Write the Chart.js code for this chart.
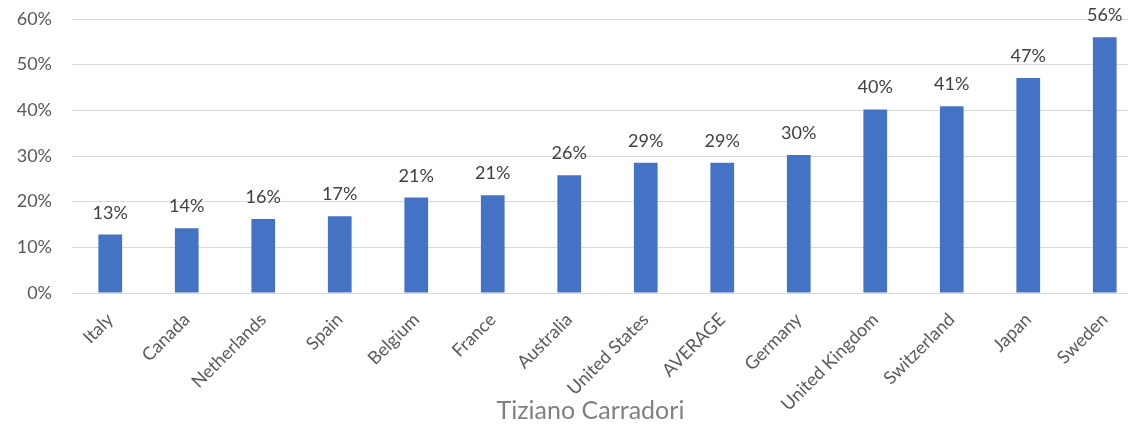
<!DOCTYPE html>
<html lang="en">
<head>
    <meta charset="UTF-8">
    <title>Share by country</title>
    <script src="https://cdn.jsdelivr.net/npm/chart.js"></script>
    <style>
        body {
            margin: 0;
            background: #fff;
            overflow: hidden;
        }
        #wrap {
            width: 1145px;
            height: 425px;
        }
    </style>
</head>
<body>
    <div id="wrap"><canvas id="barChart"></canvas></div>

    <script>
        const countries = ['Italy', 'Canada', 'Netherlands', 'Spain', 'Belgium', 'France', 'Australia',
            'United States', 'AVERAGE', 'Germany', 'United Kingdom', 'Switzerland', 'Japan', 'Sweden'];
        const shares = [12.8, 14.2, 16.2, 16.8, 20.9, 21.4, 25.8, 28.5, 28.5, 30.2, 40.2, 40.9, 47.1, 56.0];
        const yTicks = [0, 10, 20, 30, 40, 50, 60];
        const caption = 'Tiziano Carradori';

        const FONT = 'Lato, "Open Sans", sans-serif';

        // value labels above each bar
        const barLabels = {
            id: 'barLabels',
            afterDatasetsDraw(chart) {
                const ctx = chart.ctx;
                const meta = chart.getDatasetMeta(0);
                ctx.save();
                ctx.font = '18px ' + FONT;
                ctx.fillStyle = '#404040';
                ctx.textAlign = 'center';
                ctx.textBaseline = 'alphabetic';
                meta.data.forEach((bar, i) => {
                    ctx.fillText(Math.round(shares[i]) + '%', bar.x, bar.y - 16);
                });
                ctx.restore();
            }
        };

        // author line under the axis labels (sits a bit left of the plot centre in the original)
        const bottomCaption = {
            id: 'bottomCaption',
            afterDraw(chart) {
                const ctx = chart.ctx;
                const area = chart.chartArea;
                ctx.save();
                ctx.font = '25px ' + FONT;
                ctx.fillStyle = '#808080';
                ctx.textAlign = 'center';
                ctx.textBaseline = 'alphabetic';
                ctx.fillText(caption, (area.left + area.right) / 2 - 17, chart.height - 6);
                ctx.restore();
            }
        };

        const ctx = document.getElementById('barChart').getContext('2d');
        new Chart(ctx, {
            type: 'bar',
            data: {
                labels: countries,
                datasets: [{
                    data: shares,
                    backgroundColor: '#4472c4',
                    categoryPercentage: 1,
                    barPercentage: 0.31
                }]
            },
            options: {
                responsive: true,
                maintainAspectRatio: false,
                animation: false,
                layout: { padding: { top: 0, right: 2, left: 0, bottom: 0 } },
                plugins: {
                    legend: { display: false },
                    tooltip: { enabled: false }
                },
                scales: {
                    x: {
                        grid: { display: false },
                        border: { display: false },
                        ticks: {
                            color: '#595959',
                            font: { family: FONT, size: 18 },
                            minRotation: 45,
                            maxRotation: 45,
                            padding: 8
                        },
                        afterFit(scale) { scale.height = 132; }
                    },
                    y: {
                        min: 0,
                        max: 60,
                        border: { display: false },
                        grid: { color: '#d9d9d9', lineWidth: 1, drawTicks: false },
                        afterBuildTicks(scale) {
                            scale.ticks = yTicks.map(v => ({ value: v }));
                        },
                        ticks: {
                            color: '#595959',
                            font: { family: FONT, size: 18 },
                            padding: 20,
                            callback: v => v + '%'
                        },
                        afterFit(scale) {
                            scale.width = 72;
                            // tick padding would otherwise push the top gridline down
                            scale.paddingTop = 19;
                            scale.paddingBottom = 0;
                        }
                    }
                }
            },
            plugins: [barLabels, bottomCaption]
        });
    </script>
</body>
</html>
